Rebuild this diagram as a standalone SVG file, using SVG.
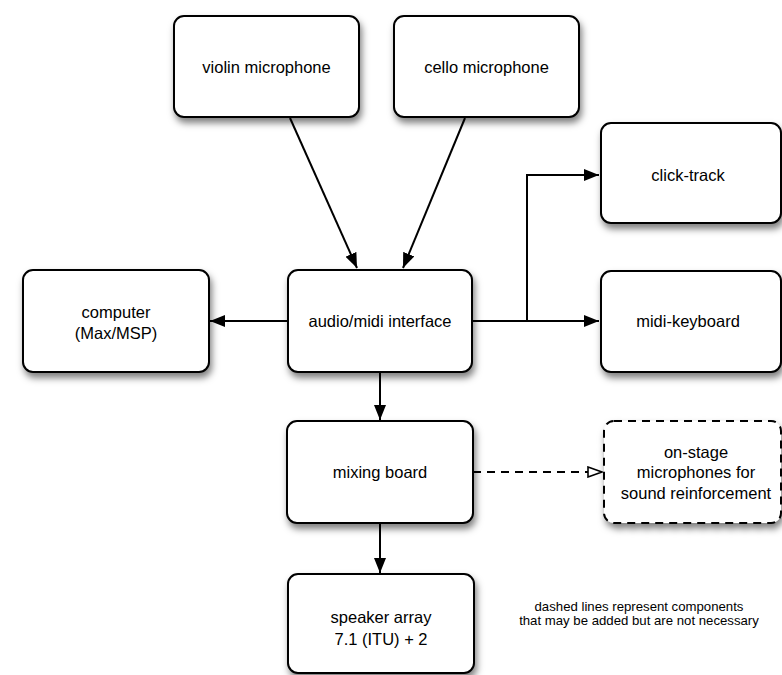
<svg xmlns="http://www.w3.org/2000/svg" width="782" height="675" viewBox="0 0 782 675">
<style>
.box{fill:#fff;stroke:#000;stroke-width:2;filter:url(#sh)}
.dash{stroke-dasharray:8,6}
.t{font-family:"Liberation Sans",Arial,sans-serif;font-size:16.5px;text-anchor:middle;fill:#000}
.n{font-family:"Liberation Sans",Arial,sans-serif;font-size:13.2px;text-anchor:middle;fill:#000}
.c{fill:none;stroke:#000;stroke-width:2}
</style>
<defs>
<filter id="sh" x="-20%" y="-20%" width="140%" height="150%">
<feDropShadow dx="2" dy="5" stdDeviation="3.5" flood-color="#000" flood-opacity="0.5"/>
</filter>
<marker id="a" viewBox="0 0 15 12" refX="15" refY="6" markerWidth="15" markerHeight="12" markerUnits="userSpaceOnUse" orient="auto">
<path d="M0,0L15,6L0,12z" fill="#000"/>
</marker>
<marker id="h" viewBox="0 0 16 12" refX="15" refY="6" markerWidth="16" markerHeight="12" markerUnits="userSpaceOnUse" orient="auto">
<path d="M1,1L15,6L1,11z" fill="#fff" stroke="#000" stroke-width="1.6"/>
</marker>
</defs>
<g id="connectors">
<line class="c" x1="290" y1="118" x2="357" y2="268" marker-end="url(#a)"/>
<line class="c" x1="465" y1="118" x2="403" y2="268" marker-end="url(#a)"/>
<line class="c" x1="288" y1="321" x2="210" y2="321" marker-end="url(#a)"/>
<line class="c" x1="472" y1="321" x2="599" y2="321" marker-end="url(#a)"/>
<polyline class="c" points="527,321 527,175 599,175" marker-end="url(#a)"/>
<line class="c" x1="380" y1="372" x2="380" y2="420" marker-end="url(#a)"/>
<line class="c" x1="380" y1="523" x2="380" y2="573" marker-end="url(#a)"/>
<line class="c dash" x1="473" y1="472" x2="602" y2="472" marker-end="url(#h)"/>
</g>
<g id="violin"><rect class="box" x="174" y="16" width="185" height="101" rx="10"/><text class="t" x="266.5" y="73">violin microphone</text></g>
<g id="cello"><rect class="box" x="394" y="16" width="185" height="101" rx="10"/><text class="t" x="486.5" y="73">cello microphone</text></g>
<g id="clicktrack"><rect class="box" x="601" y="123" width="180" height="100" rx="10"/><text class="t" x="688" y="181">click-track</text></g>
<g id="computer"><rect class="box" x="23" y="270" width="186" height="102" rx="10"/><text class="t" x="116" y="318">computer</text><text class="t" x="116" y="339">(Max/MSP)</text></g>
<g id="audiomidi"><rect class="box" x="288" y="270" width="184" height="102" rx="10"/><text class="t" x="380" y="327">audio/midi interface</text></g>
<g id="midikeyboard"><rect class="box" x="601" y="271" width="180" height="101" rx="10"/><text class="t" x="688" y="327">midi-keyboard</text></g>
<g id="mixing"><rect class="box" x="287" y="421" width="186" height="102" rx="10"/><text class="t" x="380" y="478">mixing board</text></g>
<g id="onstage"><rect class="box dash" x="604" y="421" width="177" height="102" rx="10"/><text class="t" x="696" y="458">on-stage</text><text class="t" x="696" y="478">microphones for</text><text class="t" x="696" y="499">sound reinforcement</text></g>
<g id="speaker"><rect class="box" x="288" y="574" width="186" height="99" rx="10"/><text class="t" x="381" y="623">speaker array</text><text class="t" x="381" y="645">7.1 (ITU) + 2</text></g>
<g id="note"><text class="n" x="639" y="611">dashed lines represent components</text><text class="n" x="639" y="625">that may be added but are not necessary</text></g>
</svg>
